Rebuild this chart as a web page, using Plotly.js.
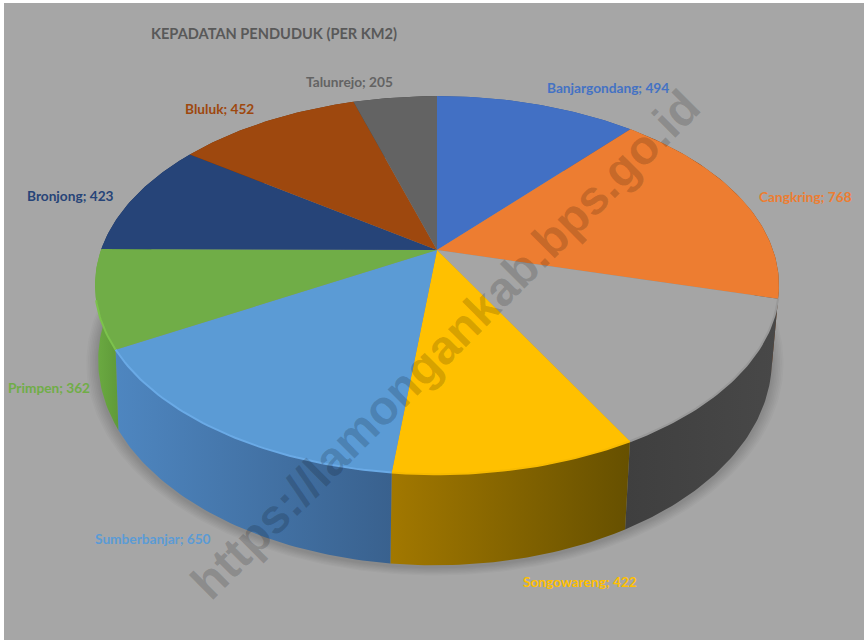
<!DOCTYPE html>
<html>
<head>
<meta charset="utf-8">
<script src="https://cdn.plot.ly/plotly-3.0.1.min.js"></script>
<style>html,body{margin:0;padding:0;background:#fff}#chart{width:864px;height:640px}</style>
</head>
<body>
<div id="chart"></div>
<script>
const chartTitle = "KEPADATAN PENDUDUK (PER KM2)";
const watermark = "https://lamongankab.bps.go.id";
// The grey slice's label is the same colour as the background, so its name cannot be read.
const categories = ["Banjargondang", "Cangkring", "", "Songowareng", "Sumberbanjar", "Primpen", "Bronjong", "Bluluk", "Talunrejo"];
const values = [494, 768, 560, 422, 650, 362, 423, 452, 205];
const topColors = ["#4270c4", "#ed7d31", "#a5a5a5", "#ffc000", "#5b9bd5", "#70ad47", "#264478", "#9e480e", "#636363"];
const labelColors = ["#4472c4", "#ed7d31", "#a5a5a5", "#ffc000", "#5b9bd5", "#70ad47", "#264478", "#9e480e", "#636363"];
const wallLeft = ["#2f5597", "#6e3a14", "#3f3f3f", "#a27800", "#4e86c0", "#6cab42", "#1a2f55", "#6e320a", "#444444"];
const wallRight = ["#2f5597", "#7a4018", "#484848", "#665000", "#39618e", "#5f9a39", "#1a2f55", "#6e320a", "#444444"];
const rimColors = ["#4a7ad0", "#c9692a", "#999999", "#f7ba00", "#6aaae6", "#7cc24c", "#2b4c84", "#c06a30", "#6c6c6c"];
const labelCenters = [[608, 87], [805, 196], null, [580, 581], [153, 538], [49, 387], [70, 195], [219, 108], [349, 81]];

// Perspective projection of the pie disc
const cx = 437, cy = 250, a = 336, b = 182.5, p = 0.186;
const total = values.reduce((s, v) => s + v, 0);
function topPt(th) {
  const u = Math.sin(th), v = Math.cos(th), w = 1 + p * v;
  return [cx + a * u / w, cy - b * v / w];
}
function botPt(th) {
  const u = Math.sin(th), v = Math.cos(th), w = 1 + p * v;
  return [cx - 2 + 0.985 * a * u / w, cy + 72 - 198 * v / w];
}
function arc(fn, t0, t1) {
  const n = Math.max(2, Math.ceil(Math.abs(t1 - t0) / (Math.PI / 180)));
  const pts = [];
  for (let i = 0; i <= n; i++) pts.push(fn(t0 + (t1 - t0) * i / n));
  return pts;
}
const angles = [0];
values.forEach((v, i) => angles.push(angles[i] + v / total * 2 * Math.PI));

const traces = [];
function poly(pts, extra) {
  traces.push(Object.assign({
    type: "scatter", mode: "lines", x: pts.map(q => q[0]), y: pts.map(q => q[1]),
    fill: "toself", line: { width: 0 }, hoverinfo: "skip", showlegend: false
  }, extra));
}
// soft shadow under the pie
for (let s = 7; s >= 1; s--) {
  const f = 1 + s * 0.005;
  const pts = arc(botPt, 0, 2 * Math.PI).map(q => [cx + (q[0] - cx) * f, 330 + (q[1] - 330) * f + 2]);
  poly(pts, { fillcolor: "rgba(0,0,0,0.025)" });
}
// side walls
values.forEach((v, i) => {
  const t = arc(topPt, angles[i], angles[i + 1]);
  const bt = arc(botPt, angles[i], angles[i + 1]).reverse();
  const pts = t.concat(bt); pts.push(t[0]);
  poly(pts, {
    fillcolor: wallLeft[i],
    fillgradient: { type: "horizontal", colorscale: [[0, wallLeft[i]], [1, wallRight[i]]] }
  });
});
// top faces
values.forEach((v, i) => {
  const pts = [[cx, cy]].concat(arc(topPt, angles[i], angles[i + 1]));
  pts.push([cx, cy]);
  poly(pts, { fillcolor: topColors[i], name: categories[i], hoverinfo: "skip" });
});
// bevelled rim highlight, front part only
values.forEach((v, i) => {
  const pts = arc(topPt, angles[i], angles[i + 1]).filter(q => q[1] > 297);
  if (pts.length < 2) return;
  traces.push({
    type: "scatter", mode: "lines", x: pts.map(q => q[0]), y: pts.map(q => q[1]),
    line: { color: rimColors[i], width: 2 }, hoverinfo: "skip", showlegend: false
  });
});

const font = "Lato, 'Open Sans', sans-serif";
const annotations = [];
categories.forEach((c, i) => {
  if (!c) return;
  annotations.push({
    xref: "x", yref: "y", x: labelCenters[i][0], y: labelCenters[i][1], showarrow: false,
    text: "<b>" + c + "; " + values[i] + "</b>", font: { family: font, size: 13.7, color: labelColors[i] }
  });
});
annotations.push({
  xref: "x", yref: "y", x: 445, y: 344, showarrow: false, textangle: -45,
  text: "<b>" + watermark + "</b>",
  font: { family: "'Liberation Sans', sans-serif", size: 48, color: "rgba(0,0,0,0.17)" }
});

Plotly.newPlot("chart", traces, {
  width: 864, height: 640,
  margin: { l: 0, r: 0, t: 0, b: 0 },
  paper_bgcolor: "#ffffff", plot_bgcolor: "#ffffff",
  showlegend: false,
  title: { text: "<b>" + chartTitle + "</b>", x: 274 / 864, xanchor: "center", y: 1 - 34 / 640, yanchor: "middle",
           font: { family: font, size: 14.6, color: "#595959" } },
  xaxis: { range: [0, 864], visible: false, fixedrange: true },
  yaxis: { range: [640, 0], visible: false, fixedrange: true },
  shapes: [{ type: "rect", xref: "x", yref: "y", x0: 4, x1: 864, y0: 3, y1: 640, fillcolor: "#a6a6a6", line: { width: 0 }, layer: "below" }],
  annotations: annotations
}, { displayModeBar: false, staticPlot: true });
</script>
</body>
</html>
